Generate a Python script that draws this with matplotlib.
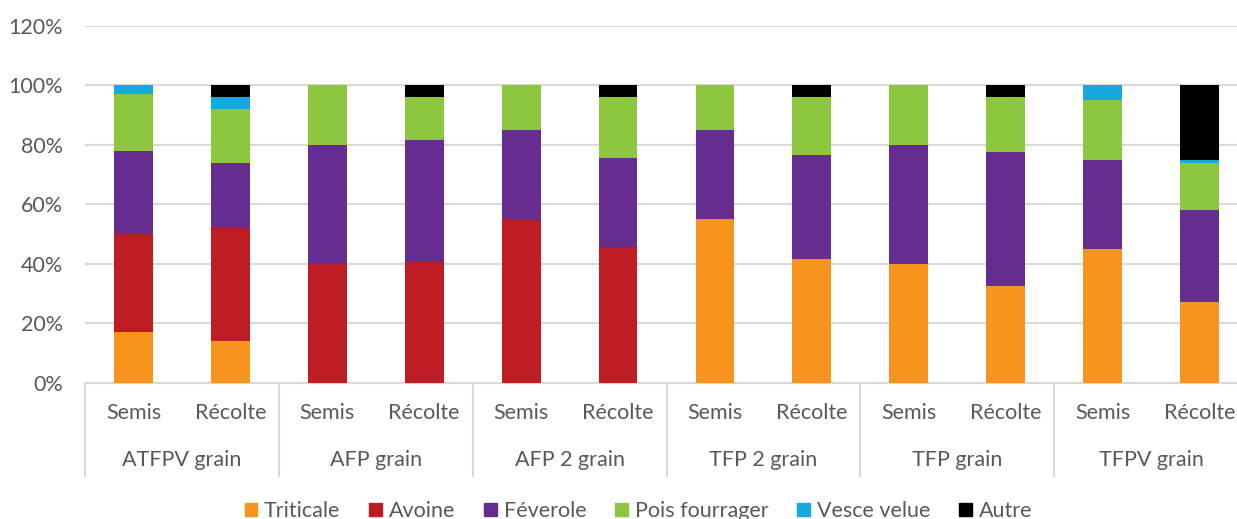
import matplotlib.pyplot as plt
from matplotlib.ticker import PercentFormatter
from matplotlib.patches import Patch
import numpy as np

plt.rcParams['font.family'] = ['Lato', 'DejaVu Sans']

groups = ['ATFPV grain', 'AFP grain', 'AFP 2 grain', 'TFP 2 grain', 'TFP grain', 'TFPV grain']
stages = ['Semis', 'Récolte']

# percentages per bar (Semis, Récolte for each group)
triticale = [17, 14, 0, 0, 0, 0, 55, 41.5, 40, 32.5, 45, 27]
avoine = [33, 38, 40, 40.5, 55, 45.5, 0, 0, 0, 0, 0, 0]
feverole = [28, 22, 40, 41, 30, 30, 30, 35, 40, 45, 30, 31]
pois = [19, 18, 20, 14.5, 15, 20.5, 15, 19.5, 20, 18.5, 20, 16]
vesce = [3, 4, 0, 0, 0, 0, 0, 0, 0, 0, 5, 1]
autre = [0, 4, 0, 4, 0, 4, 0, 4, 0, 4, 0, 25]

series = ['Triticale', 'Avoine', 'Féverole', 'Pois fourrager', 'Vesce velue', 'Autre']
colors = ['#F7941D', '#BE1E23', '#662D91', '#8DC63F', '#15A9E0', '#000000']
values = [triticale, avoine, feverole, pois, vesce, autre]

grey = '#595959'
fs = 15.5

fig = plt.figure(figsize=(12.37, 5.19), dpi=100)
# axes runs past the right edge, as in the cropped original
ax = fig.add_axes([85 / 1237, (519 - 382.7) / 519, 1163 / 1237, 356.7 / 519])

x = np.arange(len(triticale))
bottom = np.zeros(len(x))
for name, vals, c in zip(series, values, colors):
    v = np.array(vals) / 100
    ax.bar(x, v, 0.4, bottom=bottom, color=c, label=name, zorder=3)
    bottom += v

ax.set_xlim(-0.5, len(x) - 0.5)
ax.set_ylim(0, 1.2)
ax.set_yticks(np.arange(0, 1.21, 0.2))
ax.yaxis.set_major_formatter(PercentFormatter(1.0, decimals=0))
ax.tick_params(axis='y', length=0, pad=16, labelsize=fs, labelcolor=grey)
ax.set_xticks([])
ax.grid(axis='y', color='#D9D9D9', lw=1.5, zorder=0)
for s in ['top', 'right', 'left']:
    ax.spines[s].set_visible(False)
ax.spines['bottom'].set_color('#D9D9D9')
ax.spines['bottom'].set_linewidth(1.5)

# two-level category labels
trans = ax.get_xaxis_transform()
for i in x:
    ax.text(i, -0.085, stages[i % 2], transform=trans, ha='center', va='center',
            fontsize=fs, color=grey)
for g, name in enumerate(groups):
    ax.text(2 * g + 0.5, -0.217, name, transform=trans, ha='center', va='center',
            fontsize=fs, color=grey)
for g in range(len(groups) + 1):
    ax.plot([2 * g - 0.5, 2 * g - 0.5], [0, -0.262], transform=trans, color='#D9D9D9',
            lw=1.5, clip_on=False)

handles = [Patch(color=c, label=n) for n, c in zip(series, colors)]
fig.legend(handles=handles, loc='center', bbox_to_anchor=(0.516, 8 / 519), ncol=6,
           frameon=False, fontsize=fs, labelcolor=grey, handlelength=0.6, handleheight=0.6,
           handletextpad=0.3, columnspacing=1.35)

fig.savefig('out.png', dpi=100)
